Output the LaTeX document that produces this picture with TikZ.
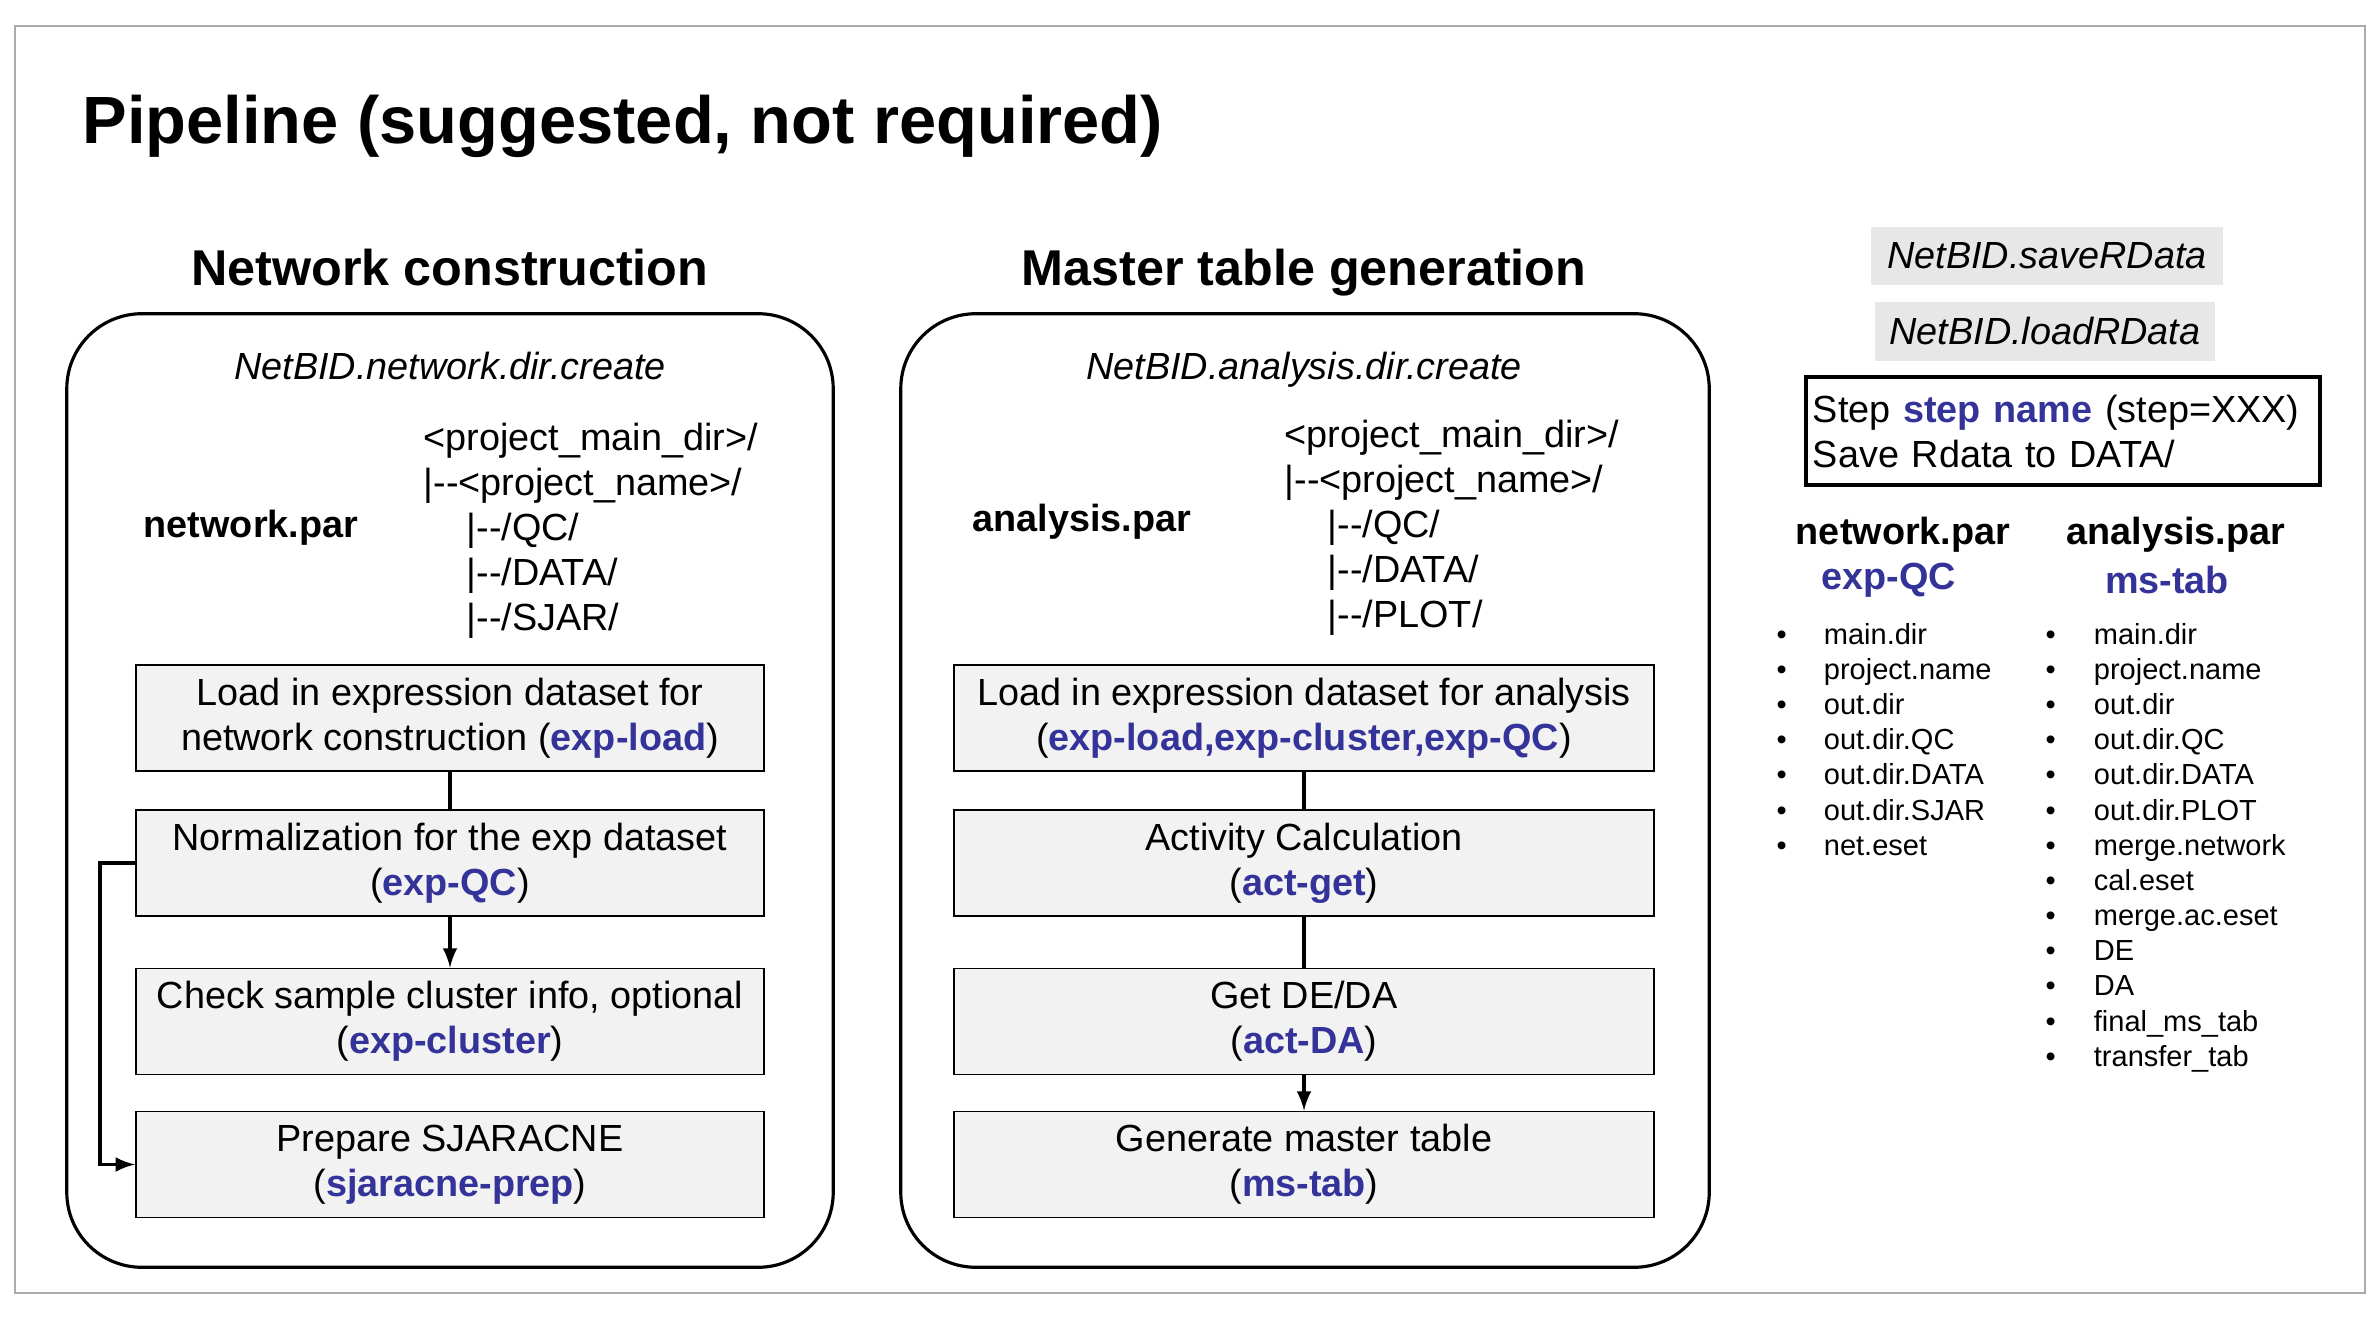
\documentclass[tikz,border=0pt]{standalone}
\usepackage{fontspec}
\setmainfont{Liberation Sans}
\usetikzlibrary{arrows}
\definecolor{stepblue}{RGB}{51,51,153}
\definecolor{boxgray}{RGB}{242,242,242}
\definecolor{fngray}{RGB}{231,231,231}
\definecolor{framegray}{RGB}{170,170,170}
\newcommand{\stp}[1]{\textcolor{stepblue}{\textbf{#1}}}
\newcommand{\dd}{-\kern0pt-}

\begin{document}
\begin{tikzpicture}[x=0.01cm, y=-0.01cm,
    body/.style = {font=\fontsize{10.75}{12.8}\selectfont, inner sep=0pt},
    stage/.style = {body, draw, line width=0.5pt, fill=boxgray, align=center, minimum height=1.06cm},
    panel/.style = {draw, line width=0.9pt, rounded corners=0.75cm, minimum height=9.53cm},
    head/.style = {font=\fontsize{14.3}{17}\selectfont\bfseries, inner sep=0pt, anchor=base},
    fn/.style = {body, font=\fontsize{10.75}{12.8}\selectfont\itshape},
    par/.style = {body, font=\fontsize{10.75}{12.8}\selectfont\bfseries},
    tree/.style = {body, align=left, anchor=north west},
    items/.style = {inner sep=0pt, anchor=north west, font=\fontsize{8.25}{10}\selectfont},
    link/.style = {line width=0.9pt}]
    \useasboundingbox (0,0) rectangle (2379,1325);
    \draw[framegray, line width=0.6pt] (15,26) rectangle (2365,1293);

    \node[anchor=west, inner sep=0pt, font=\fontsize{19}{23}\selectfont\bfseries] (title) at (82,126) {Pipeline (suggested, not required)};

    % network construction
    \node[head] (nethead) at (450,286) {Network construction};
    \node[panel, minimum width=7.66cm] (netpanel) at (450,790.5) {};
    \node[fn, anchor=base] (netfn) at (450,380) {NetBID.network.dir.create};
    \node[par] (netpar) at (251,528) {network.par};
    \node[tree] (nettree) at (423,422) {<project\_main\_dir>/\\
        |\dd<project\_name>/\\
        \hspace*{4.3mm}|\dd/QC/\\
        \hspace*{4.3mm}|\dd/DATA/\\
        \hspace*{4.3mm}|\dd/SJAR/};
    \node[stage, minimum width=6.28cm] (n1) at (450,718) {Load in expression dataset for\\network construction (\stp{exp-load})};
    \node[stage, minimum width=6.28cm] (n2) at (450,863) {Normalization for the exp dataset\\(\stp{exp-QC})};
    \node[stage, minimum width=6.28cm] (n3) at (450,1021.5) {Check sample cluster info, optional\\(\stp{exp-cluster})};
    \node[stage, minimum width=6.28cm] (n4) at (450,1164.5) {Prepare SJARACNE\\(\stp{sjaracne-prep})};

    \draw[link] (n1) -- (n2);
    \draw[link, -latex] (n2) -- (n3);
    \draw[link, -latex] (n2.west) -- ++(-35,0) |- (n4.west);

    % master table generation
    \node[head] (tabhead) at (1304,286) {Master table generation};
    \node[panel, minimum width=8.08cm] (tabpanel) at (1305,790.5) {};
    \node[fn, anchor=base] (tabfn) at (1304,380) {NetBID.analysis.dir.create};
    \node[par] (tabpar) at (1082,522) {analysis.par};
    \node[tree] (tabtree) at (1284,419) {<project\_main\_dir>/\\
        |\dd<project\_name>/\\
        \hspace*{4.3mm}|\dd/QC/\\
        \hspace*{4.3mm}|\dd/DATA/\\
        \hspace*{4.3mm}|\dd/PLOT/};
    \node[stage, minimum width=6.99cm] (m1) at (1304,718) {Load in expression dataset for analysis\\(\stp{exp-load,exp-cluster,exp-QC})};
    \node[stage, minimum width=6.99cm] (m2) at (1304,863) {Activity Calculation\\(\stp{act-get})};
    \node[stage, minimum width=6.99cm] (m3) at (1304,1021.5) {Get DE/DA\\(\stp{act-DA})};
    \node[stage, minimum width=6.99cm] (m4) at (1304,1164.5) {Generate master table\\(\stp{ms-tab})};

    \draw[link] (m1) -- (m2);
    \draw[link] (m2) -- (m3);
    \draw[link, -latex] (m3) -- (m4);

    % legend
    \node[fn, fill=fngray, minimum width=3.52cm, minimum height=0.58cm] (save) at (2047,256) {NetBID.saveRData};
    \node[fn, fill=fngray, minimum width=3.40cm, minimum height=0.59cm] (load) at (2045,331.5) {NetBID.loadRData};
    \node[body, draw, line width=1.1pt, align=left, anchor=west, text width=5.0cm, inner xsep=0.07cm, minimum height=1.08cm] (legend) at (1804,431)
        {Step \stp{step name} (step=XXX)\\Save Rdata to DATA/};

    \node[par] (netpar2) at (1903,535) {network.par};
    \node[par, text=stepblue] (netstep) at (1889,580) {exp-QC};
    \node[par] (tabpar2) at (2176,535) {analysis.par};
    \node[par, text=stepblue] (tabstep) at (2167,580) {ms-tab};

    \node[items] (netitems) at (1776,619) {\begin{tabular}{@{}l@{\hspace{0.37cm}}l@{}}
        \textbullet & main.dir\\
        \textbullet & project.name\\
        \textbullet & out.dir\\
        \textbullet & out.dir.QC\\
        \textbullet & out.dir.DATA\\
        \textbullet & out.dir.SJAR\\
        \textbullet & net.eset
        \end{tabular}};
    \node[items] (tabitems) at (2045,619) {\begin{tabular}{@{}l@{\hspace{0.38cm}}l@{}}
        \textbullet & main.dir\\
        \textbullet & project.name\\
        \textbullet & out.dir\\
        \textbullet & out.dir.QC\\
        \textbullet & out.dir.DATA\\
        \textbullet & out.dir.PLOT\\
        \textbullet & merge.network\\
        \textbullet & cal.eset\\
        \textbullet & merge.ac.eset\\
        \textbullet & DE\\
        \textbullet & DA\\
        \textbullet & final\_ms\_tab\\
        \textbullet & transfer\_tab
        \end{tabular}};
\end{tikzpicture}
\end{document}
